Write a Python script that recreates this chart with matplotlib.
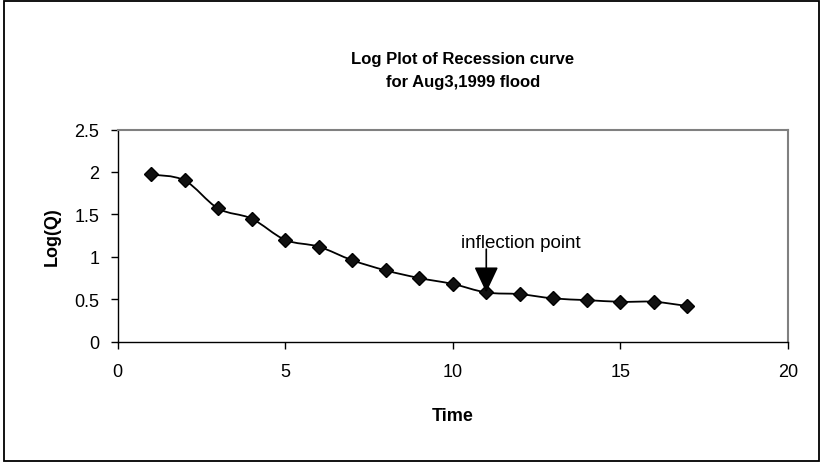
import numpy as np
import matplotlib.pyplot as plt
from matplotlib.path import Path
from matplotlib.patches import PathPatch, Rectangle

plt.rcParams['font.family'] = ['Liberation Sans', 'DejaVu Sans']

time = [1, 2, 3, 4, 5, 6, 7, 8, 9, 10, 11, 12, 13, 14, 15, 16, 17]
logq = [1.97, 1.90, 1.57, 1.45, 1.20, 1.12, 0.96, 0.84, 0.75, 0.68,
        0.58, 0.56, 0.51, 0.49, 0.47, 0.47, 0.42]
x_ticks = [0, 5, 10, 15, 20]
y_ticks = [0, 0.5, 1, 1.5, 2, 2.5]
y_labels = ['0', '0.5', '1', '1.5', '2', '2.5']

fig = plt.figure(figsize=(8.22, 4.64), dpi=100)
# outer chart border
fig.patches.append(Rectangle((4 / 822, 2 / 464), 815 / 822, 460 / 464,
                             transform=fig.transFigure, fill=False,
                             edgecolor='black', linewidth=1.3))

ax = fig.add_axes([117.5 / 822, 1 - 342.7 / 464, (788 - 117.5) / 822, (342.7 - 130.5) / 464])
ax.set_xlim(0, 20)
ax.set_ylim(0, 2.5)

# excel-style smoothed line through the points (cardinal spline as bezier)
x = np.array(time, float)
y = np.array(logq, float)
t = 1 / 6
verts = [(x[0], y[0])]
codes = [Path.MOVETO]
n = len(x)
for i in range(n - 1):
    x0, y0 = (x[i - 1], y[i - 1]) if i > 0 else (x[i], y[i])
    x3, y3 = (x[i + 2], y[i + 2]) if i + 2 < n else (x[i + 1], y[i + 1])
    c1 = (x[i] + (x[i + 1] - x0) * t, y[i] + (y[i + 1] - y0) * t)
    c2 = (x[i + 1] - (x3 - x[i]) * t, y[i + 1] - (y3 - y[i]) * t)
    verts += [c1, c2, (x[i + 1], y[i + 1])]
    codes += [Path.CURVE4] * 3
ax.add_patch(PathPatch(Path(verts, codes), fill=False, edgecolor='black', linewidth=1.3))
ax.plot(time, logq, linestyle='none', marker='D', markersize=7.5,
        color='black', markerfacecolor='#111111')

for s in ['top', 'right']:
    ax.spines[s].set_color('#808080')
    ax.spines[s].set_linewidth(1.5)
for s in ['left', 'bottom']:
    ax.spines[s].set_color('black')
    ax.spines[s].set_linewidth(1.0)

ax.set_xticks(x_ticks)
ax.set_yticks(y_ticks)
ax.set_yticklabels(y_labels)
ax.tick_params(direction='out', length=5, width=1, labelsize=13)
ax.tick_params(axis='x', pad=10)
ax.tick_params(axis='y', pad=8)

ax.set_xlabel('Time', fontsize=13, fontweight='bold', labelpad=20)
ax.set_ylabel('Log(Q)', fontsize=13, fontweight='bold', labelpad=10)

fig.text(463 / 822, 1 - 71 / 464, 'Log Plot of Recession curve\nfor Aug3,1999 flood',
         ha='center', va='center', fontsize=12, fontweight='bold', linespacing=1.6)

ax.annotate('', xy=(11, 0.58), xytext=(11, 1.09),
            arrowprops=dict(arrowstyle='-|>,head_length=1.0,head_width=0.47',
                            mutation_scale=16, color='black', lw=1.2,
                            shrinkA=0, shrinkB=0))
ax.text(10.25, 1.17, 'inflection point', fontsize=13.5, ha='left', va='center')

fig.savefig('out.png', dpi=100)
